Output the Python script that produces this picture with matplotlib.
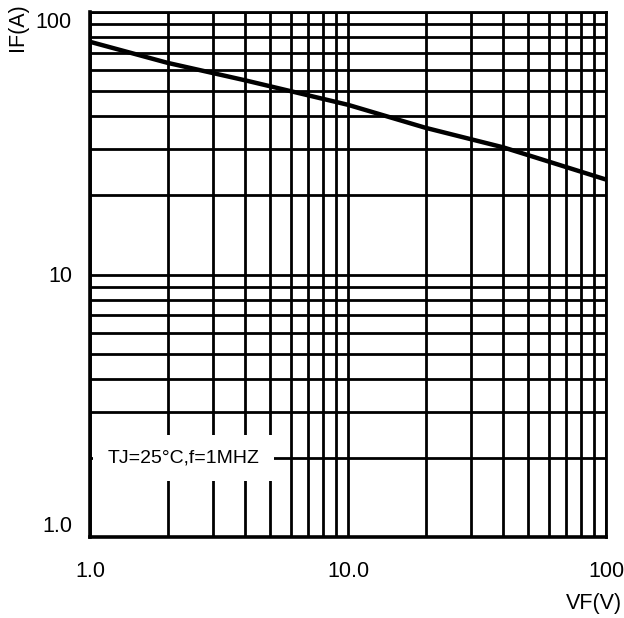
import matplotlib.pyplot as plt
from matplotlib.ticker import LogLocator, NullFormatter

plt.rcParams['font.family'] = ['Liberation Sans', 'DejaVu Sans']

# curve
vf = [1, 2, 4, 10, 20, 40, 100]
if_a = [77, 64, 54.9, 44.3, 36.2, 30.5, 23]

x_ticks = [1, 10, 100]
x_labels = ["1.0", "10.0", "100"]
y_ticks = [1, 10, 100]
y_labels = ["1.0", "10", "100"]

fig = plt.figure(figsize=(6.24, 6.18), dpi=100)
ax = fig.add_axes([90 / 624, 81 / 618, 516 / 624, 525 / 618])

ax.set_xscale("log")
ax.set_yscale("log")
ax.set_xlim(1, 100)
ax.set_ylim(1, 100)

ax.plot(vf, if_a, color="black", lw=3.2, solid_capstyle="butt", zorder=4)

# grid on every decade step
ax.xaxis.set_minor_locator(LogLocator(base=10, subs=range(2, 10)))
ax.yaxis.set_minor_locator(LogLocator(base=10, subs=range(2, 10)))
ax.xaxis.set_minor_formatter(NullFormatter())
ax.yaxis.set_minor_formatter(NullFormatter())
ax.grid(which="both", color="black", lw=2.0)
ax.set_axisbelow(True)

ax.set_xticks(x_ticks, x_labels)
ax.set_yticks(y_ticks, y_labels)
ax.tick_params(which="both", length=0, labelsize=15.5)
ax.tick_params(axis="x", pad=17)
ax.tick_params(axis="y", pad=13)
ylabs = ax.get_yticklabels()
ylabs[0].set_va("bottom")
ylabs[-1].set_va("top")

for side in ["left", "bottom"]:
    ax.spines[side].set_linewidth(2.6)
for side in ["top", "right"]:
    ax.spines[side].set_linewidth(2.0)

ax.text(2.3, 2, "TJ=25°C,f=1MHZ", fontsize=14, ha="center", va="center",
        bbox=dict(facecolor="white", edgecolor="none", boxstyle="square,pad=0.75"),
        zorder=3)

fig.text(18 / 624, 1 - 27 / 618, "IF(A)", rotation=90, ha="center", va="center",
         fontsize=15.5)
fig.text(622 / 624, 1 - 603 / 618, "VF(V)", ha="right", va="center", fontsize=15.5)

fig.savefig("out.png", dpi=100)
